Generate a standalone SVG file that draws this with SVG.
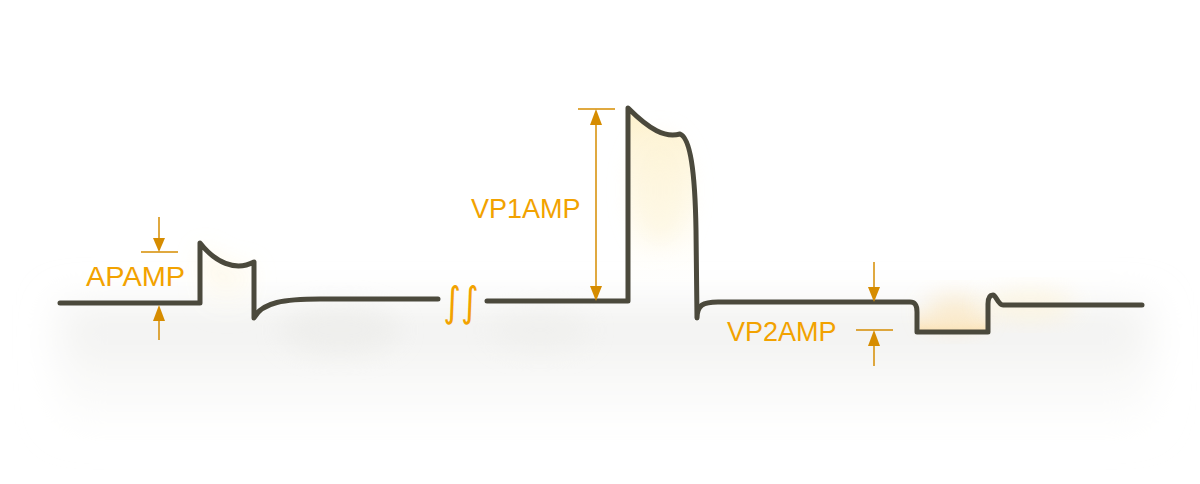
<svg xmlns="http://www.w3.org/2000/svg" width="1200" height="484" viewBox="0 0 1200 484">
  <style>
    .wave { fill: none; stroke: #4b493c; stroke-width: 5; stroke-linecap: round; stroke-linejoin: round; }
    .dim { stroke: #d68c00; stroke-width: 1.5; fill: none; }
    .head { fill: #d68c00; }
    .lbl { font-family: "Liberation Sans", Arial, sans-serif; font-size: 27px; fill: #f2a200; }
  </style>
  <defs>
    <filter id="blurBig" x="-20%" y="-60%" width="140%" height="220%"><feGaussianBlur stdDeviation="20"/></filter>
    <filter id="blurMid" x="-50%" y="-50%" width="200%" height="200%"><feGaussianBlur stdDeviation="12"/></filter>
    <linearGradient id="shadowG" x1="0" y1="0" x2="0" y2="1">
      <stop offset="0" stop-color="#ececea" stop-opacity="0.85"/>
      <stop offset="0.5" stop-color="#f3f3f1" stop-opacity="0.65"/>
      <stop offset="1" stop-color="#fafaf8" stop-opacity="0.3"/>
    </linearGradient>
    <linearGradient id="yelG" x1="0" y1="0" x2="0" y2="1">
      <stop offset="0" stop-color="#fdf1cc"/>
      <stop offset="1" stop-color="#fffdf6" stop-opacity="0"/>
    </linearGradient>
    <linearGradient id="orgG" x1="0" y1="0" x2="0" y2="1">
      <stop offset="0" stop-color="#fff8ea" stop-opacity="0"/>
      <stop offset="1" stop-color="#fbe3b8"/>
    </linearGradient>
  </defs>

  <rect width="1200" height="484" fill="#ffffff"/>

  <g id="shadow">
    <rect x="60" y="305" width="1090" height="120" fill="url(#shadowG)" filter="url(#blurBig)"/>
    <ellipse cx="340" cy="330" rx="60" ry="25" fill="#ebebe8" filter="url(#blurMid)" opacity="0.6"/>
    <ellipse cx="540" cy="330" rx="50" ry="22" fill="#ededea" filter="url(#blurMid)" opacity="0.5"/>
  </g>

  <g id="glows">
    <path d="M202,246 C215,262 235,272 252,264 V318 H202 Z" fill="url(#yelG)" filter="url(#blurMid)" opacity="0.9"/>
    <path d="M630,112 C650,130 665,138 680,134 C690,138 694,170 695,230 L696,300 H630 Z" fill="url(#yelG)"/>
    <ellipse cx="660" cy="190" rx="28" ry="55" fill="#fdf3d4" filter="url(#blurMid)" opacity="0.5"/>
    <rect x="920" y="302" width="66" height="28" fill="url(#orgG)"/>
    <ellipse cx="955" cy="312" rx="30" ry="16" fill="#fbe6bf" filter="url(#blurMid)" opacity="0.7"/>
    <ellipse cx="1030" cy="305" rx="45" ry="14" fill="#fdf3d6" filter="url(#blurMid)" opacity="0.7"/>
  </g>

  <g id="waveform">
    <path class="wave" d="M60,303 H200 V243 C215,262 235,272 254,262 V318 C262,302 285,299 320,299 H438"/>
    <path class="wave" d="M487,301 H628 V108 C650,130 665,138 680,134 C690,138 695,170 696,230 L697,318 C697,305 703,302 718,302 H910 C915,302 917,305 917,312 V332 H988 V304 C988,297 990,295 993,295 C996,295 998,305 1003,305 H1142"/>
  </g>

  <g id="break">
    <text transform="translate(461,316) scale(1,1.2)" text-anchor="middle" style="font-family:'DejaVu Sans',sans-serif;font-size:34px;fill:#f2a200">∫∫</text>
  </g>

  <g id="apamp">
    <line class="dim" x1="159" y1="217" x2="159" y2="238"/>
    <polygon class="head" points="153,238 165,238 159,252"/>
    <line class="dim" x1="141" y1="252" x2="178" y2="252"/>
    <polygon class="head" points="159,305 153,321 165,321"/>
    <line class="dim" x1="159" y1="321" x2="159" y2="340"/>
    <text class="lbl" x="86" y="286" textLength="99" lengthAdjust="spacingAndGlyphs">APAMP</text>
  </g>

  <g id="vp1amp">
    <line class="dim" x1="578" y1="109" x2="615" y2="109"/>
    <line class="dim" x1="596" y1="124" x2="596" y2="287"/>
    <polygon class="head" points="596,109 590,125 602,125"/>
    <polygon class="head" points="596,301 590,286 602,286"/>
    <text class="lbl" x="471" y="218">VP1AMP</text>
  </g>

  <g id="vp2amp">
    <line class="dim" x1="874" y1="262" x2="874" y2="287"/>
    <polygon class="head" points="868,287 880,287 874,302"/>
    <line class="dim" x1="856" y1="330" x2="893" y2="330"/>
    <polygon class="head" points="874,330 868,346 880,346"/>
    <line class="dim" x1="874" y1="346" x2="874" y2="366"/>
    <text class="lbl" x="727" y="341">VP2AMP</text>
  </g>
</svg>
